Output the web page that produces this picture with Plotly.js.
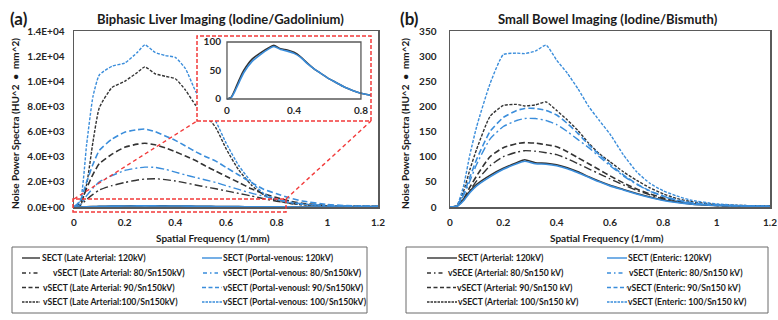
<!DOCTYPE html>
<html><head><meta charset="utf-8">
<script src="https://cdn.plot.ly/plotly-3.0.1.min.js"></script>
<style>html,body{margin:0;padding:0;background:#fff}#chart{width:778px;height:320px}</style>
</head><body><div id="chart"></div>
<script>
// ---------------- DATA ----------------
const freq = [0, 0.025, 0.05, 0.075, 0.1, 0.15, 0.2, 0.25, 0.28, 0.32, 0.36, 0.4, 0.44, 0.48, 0.52, 0.56, 0.6, 0.65, 0.7, 0.75, 0.8, 0.85, 0.9, 1.0, 1.1, 1.2];

// (a) Biphasic liver imaging (HU^2 mm^2)
const liverLA120 = [0, 3, 18, 35, 50, 70, 81, 90, 94, 88, 86, 82, 74, 63, 53, 45, 37, 29, 21, 15, 10, 7, 5, 2, 1, 1];
const liverLA80  = [0, 150, 600, 1000, 1350, 1700, 1950, 2150, 2220, 2250, 2180, 2070, 1920, 1750, 1600, 1450, 1280, 1080, 880, 650, 460, 300, 200, 90, 50, 40];
const liverLA90  = [0, 300, 1500, 2600, 3450, 4200, 4750, 5000, 5070, 4950, 4700, 4400, 4050, 3700, 3250, 2850, 2450, 1950, 1450, 1050, 750, 480, 300, 130, 70, 50];
const liverLA100 = [0, 100, 1800, 5200, 7900, 9500, 10000, 10700, 11150, 10600, 10400, 10200, 9300, 8100, 7300, 6300, 4650, 2950, 1750, 950, 520, 300, 180, 90, 60, 50];
const liverPV120 = [0, 2, 15, 31, 46, 66, 78, 88, 92, 87, 84, 80, 73, 62, 53, 45, 37, 29, 21, 15, 10, 7, 5, 2, 1, 1];
const liverPV80  = [0, 200, 900, 1500, 2000, 2500, 2900, 3100, 3170, 3150, 3000, 2780, 2550, 2350, 2150, 1950, 1700, 1400, 1100, 850, 600, 400, 260, 110, 60, 50];
const liverPV90  = [0, 500, 2000, 3400, 4500, 5400, 5950, 6150, 6200, 6000, 5650, 5300, 4850, 4400, 4000, 3650, 3150, 2550, 1950, 1400, 1050, 720, 480, 200, 90, 60];
const liverPV100 = [0, 500, 5000, 8800, 10500, 11200, 11450, 12300, 12900, 12300, 12050, 11900, 11000, 9200, 8000, 6800, 5100, 3300, 2000, 1050, 600, 350, 220, 110, 70, 60];

// (b) Small bowel imaging (HU^2 mm^2)
const bowelA120 = [0, 1, 15, 32, 45, 63, 77, 88, 94, 88, 87, 84, 78, 70, 60, 51, 43, 35, 27, 20, 14, 10, 6, 3, 2, 1];
const bowelA80  = [0, 2, 13, 33, 52, 82, 100, 109, 112, 111, 108, 104, 96, 86, 76, 66, 56, 44, 33, 24, 16, 11, 7, 3, 2, 1];
const bowelA90  = [0, 2, 15, 40, 62, 100, 118, 126, 128, 127, 124, 120, 110, 98, 86, 74, 62, 48, 36, 26, 18, 12, 8, 3, 2, 1];
const bowelA100 = [0, 2, 30, 75, 115, 180, 202, 204, 201, 203, 209, 192, 173, 152, 127, 106, 90, 70, 53, 38, 26, 17, 11, 5, 3, 2];
const bowelE120 = [0, 1, 12, 29, 42, 60, 75, 86, 91, 86, 85, 82, 76, 68, 59, 50, 42, 34, 26, 19, 13, 9, 6, 3, 2, 1];
const bowelE80  = [0, 2, 22, 52, 85, 135, 160, 172, 176, 176, 172, 164, 150, 134, 118, 100, 82, 62, 45, 31, 21, 13, 8, 4, 2, 1];
const bowelE90  = [0, 2, 25, 60, 95, 150, 178, 192, 196, 196, 192, 183, 166, 146, 124, 104, 85, 64, 46, 32, 22, 14, 9, 4, 2, 1];
const bowelE100 = [0, 2, 40, 105, 160, 245, 303, 306, 305, 310, 322, 292, 266, 235, 200, 172, 145, 104, 70, 47, 32, 22, 14, 6, 3, 2];

const liverNames = ['SECT (Late Arterial: 120kV)', 'vSECT (Late Arterial: 80/Sn150kV)', 'vSECT (Late Arterial: 90/Sn150kV)', 'vSECT (Late Arterial:100/Sn150kV)',
                    'SECT (Portal-venous: 120kV)', 'vSECT (Portal-venous: 80/Sn150kV)', 'vSECT (Portal-venousl: 90/Sn150kV)', 'vSECT (Portal-venous: 100/Sn150kV)'];
const bowelNames = ['SECT (Arterial: 120kV)', 'vSECE (Arterial: 80/Sn150 kV)', 'vSECT (Arterial: 90/Sn150 kV)', 'vSECT (Arterial: 100/Sn150 kV)',
                    'SECT (Enteric: 120kV)', 'vSECT (Enteric: 80/Sn150 kV)', 'vSECT (Enteric: 90/Sn150 kV)', 'vSECT (Enteric: 100/Sn150 kV)'];

const xTickVals = [0, 0.2, 0.4, 0.6, 0.8, 1, 1.2];
const xTickText = ['0', '0.2', '0.4', '0.6', '0.8', '1', '1.2'];
const liverTickVals = [0, 2000, 4000, 6000, 8000, 10000, 12000, 14000];
const liverTickText = ['0.0E+00', '2.0E+03', '4.0E+03', '6.0E+03', '8.0E+03', '1.0E+04', '1.2E+04', '1.4E+04'];
const bowelTickVals = [0, 50, 100, 150, 200, 250, 300, 350];
const insetXTicks = [0, 0.4, 0.8];
const insetYTicks = [0, 50, 100];

const titleA = 'Biphasic Liver Imaging (Iodine/Gadolinium)';
const titleB = 'Small Bowel Imaging (Iodine/Bismuth)';
const yTitle = 'Noise Power Spectra (HU^2  \u2022  mm^2)';
const xTitle = 'Spatial Frequency (1/mm)';

// ---------------- STYLE ----------------
const W = 778, H = 320;
const px = v => v / W, py = v => (H - v) / H;
const BLACK = '#333333', BLUE = '#3a8ddb', RED = '#f23a3a', FRAME = '#5a5a5a';
const dashes = ['solid', '8px,3px,2px,3px', '6px,3px', '3px,1.5px'];
const widths = [1.6, 1.4, 1.6, 1.4];
const legDash = ['solid', '4px,3px,1.5px,3px', '4px,2.5px', '2.5px,1px'];
const FONT = 'Lato, "Open Sans", sans-serif';

const liverSets = [[liverLA120, liverLA80, liverLA90, liverLA100], [liverPV120, liverPV80, liverPV90, liverPV100]];
const bowelSets = [[bowelA120, bowelA80, bowelA90, bowelA100], [bowelE120, bowelE80, bowelE90, bowelE100]];

const traces = [];
function addPanel(sets, names, xa, ya) {
  [BLACK, BLUE].forEach((col, g) => {
    for (let k = 3; k >= 0; k--) {
      traces.push({x: freq, y: sets[g][k], name: names[g * 4 + k], xaxis: xa, yaxis: ya, mode: 'lines',
        line: {color: col, width: widths[k], dash: dashes[k], shape: 'spline', smoothing: 0.5}, showlegend: false, hoverinfo: 'skip'});
    }
  });
}
addPanel(liverSets, liverNames, 'x', 'y');
addPanel(bowelSets, bowelNames, 'x2', 'y2');
// inset: SECT curves only
[[liverLA120, BLACK, liverNames[0]], [liverPV120, BLUE, liverNames[4]]].forEach(([ys, col, nm]) => {
  traces.push({x: freq, y: ys, name: nm, xaxis: 'x3', yaxis: 'y3', mode: 'lines',
    line: {color: col, width: 1.6, shape: 'spline', smoothing: 0.5}, showlegend: false, hoverinfo: 'skip'});
});

const axBase = {showline: true, mirror: true, linecolor: FRAME, linewidth: 1.5, showgrid: false, zeroline: false,
  ticks: '', tickfont: {size: 10, color: '#262626', family: FONT, weight: 'bold'}};

const shapes = [], annotations = [];
function ann(text, x, y, size, opts) {
  annotations.push(Object.assign({text: text, xref: 'paper', yref: 'paper', x: px(x), y: py(y), showarrow: false,
    xanchor: 'center', yanchor: 'middle', font: {family: FONT, size: size, color: '#1a1a1a', weight: 'bold'}}, opts || {}));
}
// titles
ann('(a)', 8, 18, 17, {xanchor: 'left'});
ann('(b)', 398, 18, 17, {xanchor: 'left'});
ann(titleA, 221, 19, 13);
ann(titleB, 608, 19, 13);
ann(yTitle, 15, 124, 10, {textangle: -90});
ann(yTitle, 405, 124, 10, {textangle: -90});
ann(xTitle, 213, 238, 10);
ann(xTitle, 607, 238, 10);

// legends (drawn as boxes with line samples and labels)
function legend(names, x0, x1, lineX, textX) {
  shapes.push({type: 'rect', xref: 'paper', yref: 'paper', x0: px(x0), x1: px(x1), y0: py(313), y1: py(247),
    line: {color: '#6b6b6b', width: 1}, fillcolor: 'rgba(0,0,0,0)'});
  const rowsY = [258, 273, 287.5, 302];
  [BLACK, BLUE].forEach((col, g) => {
    for (let k = 0; k < 4; k++) {
      const lx = lineX[g][k];
      shapes.push({type: 'line', xref: 'paper', yref: 'paper', x0: px(lx[0]), x1: px(lx[1]), y0: py(rowsY[k]), y1: py(rowsY[k]),
        line: {color: col, width: 1.4, dash: legDash[k]}});
      ann(names[g * 4 + k], textX[g][k], rowsY[k], 8.6, {xanchor: 'left'});
    }
  });
}
legend(liverNames, 12, 367,
  [[[22, 40], [22, 38], [22, 40], [22, 40]], [[202, 222], [203, 218], [202, 222], [202, 222]]],
  [[40, 51, 41, 41], [221, 221, 221, 221]]);
legend(bowelNames, 406, 768,
  [[[427, 457], [427, 443], [427, 456], [427, 457]], [[607, 627], [607, 624], [607, 627], [607, 627]]],
  [[456, 446, 455, 456], [626, 627, 625, 626]]);

// inset frame + zoom markers
shapes.push({type: 'rect', xref: 'paper', yref: 'paper', x0: px(197), x1: px(371), y0: py(121), y1: py(36),
  line: {color: RED, width: 1.5, dash: '4px,2px'}, fillcolor: 'rgba(0,0,0,0)', layer: 'above'});
shapes.push({type: 'rect', xref: 'x3', yref: 'y3', x0: 0, x1: 0.8, y0: 0, y1: 100,
  line: {color: FRAME, width: 1.3}, fillcolor: 'rgba(0,0,0,0)', layer: 'above'});
shapes.push({type: 'rect', xref: 'paper', yref: 'paper', x0: px(73), x1: px(286), y0: py(212), y1: py(199),
  line: {color: RED, width: 1.5, dash: '4px,2px'}, fillcolor: 'rgba(0,0,0,0)', layer: 'above'});
shapes.push({type: 'line', xref: 'paper', yref: 'paper', x0: px(74), y0: py(199), x1: px(197), y1: py(121),
  line: {color: RED, width: 1.4, dash: '4px,3px'}, layer: 'above'});
shapes.push({type: 'line', xref: 'paper', yref: 'paper', x0: px(286), y0: py(199), x1: px(371), y1: py(121),
  line: {color: RED, width: 1.4, dash: '4px,3px'}, layer: 'above'});

const layout = {
  width: W, height: H, margin: {l: 0, r: 0, t: 0, b: 0},
  paper_bgcolor: '#ffffff', plot_bgcolor: '#ffffff',
  font: {family: FONT, size: 10, color: '#262626', weight: 'bold'},
  showlegend: false,
  xaxis: Object.assign({}, axBase, {domain: [px(74), px(378)], range: [0, 1.2], anchor: 'y', tickvals: xTickVals, ticktext: xTickText, ticklabelstandoff: 5}),
  yaxis: Object.assign({}, axBase, {domain: [py(207), py(31)], range: [0, 14000], anchor: 'x', tickvals: liverTickVals, ticktext: liverTickText, ticklabelstandoff: 6}),
  xaxis2: Object.assign({}, axBase, {domain: [px(450), px(770)], range: [0, 1.2], anchor: 'y2', tickvals: xTickVals, ticktext: xTickText, ticklabelstandoff: 5}),
  yaxis2: Object.assign({}, axBase, {domain: [py(207), py(31)], range: [0, 350], anchor: 'x2', tickvals: bowelTickVals, ticklabelstandoff: 10}),
  xaxis3: Object.assign({}, axBase, {domain: [px(197), px(371)], range: [-0.179, 0.860], anchor: 'free', position: py(99), showline: false, mirror: false, tickvals: insetXTicks, ticktext: ['0', '0.4', '0.8'], ticklabelstandoff: 4}),
  yaxis3: Object.assign({}, axBase, {domain: [py(121), py(36)], range: [-38.6, 110.5], anchor: 'free', position: px(227), showline: false, mirror: false, tickvals: insetYTicks, ticklabelstandoff: 6}),
  shapes: shapes, annotations: annotations
};

Plotly.newPlot('chart', traces, layout, {staticPlot: true, displayModeBar: false});
</script></body></html>
